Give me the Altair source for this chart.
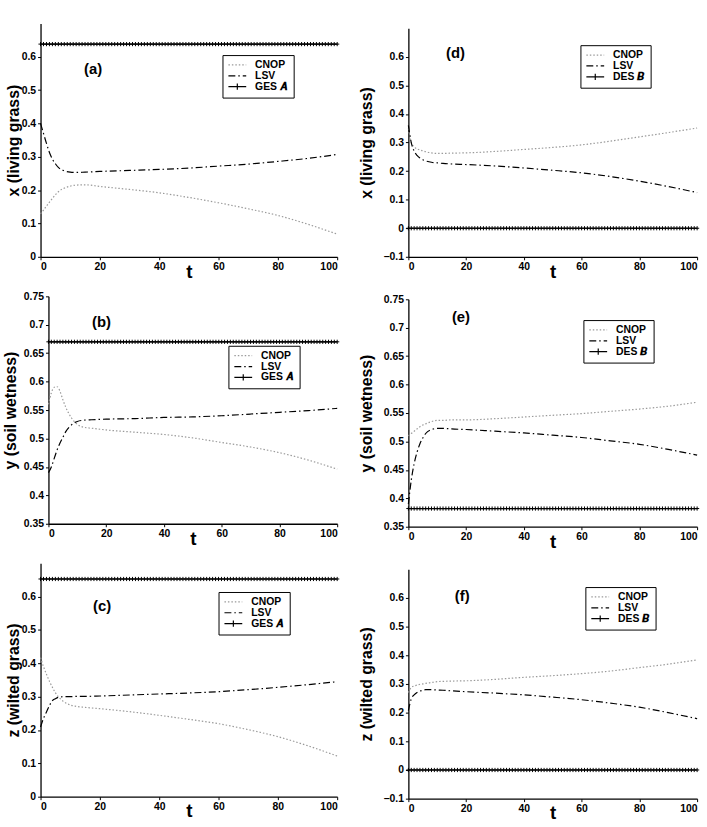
import altair as alt
import pandas as pd

# Sample times of the perturbation trajectories
T = [0, 1, 2, 3, 4, 5, 6, 8, 10, 12, 15, 20, 30, 40, 50, 60, 70, 80, 90, 100]
# Times where the equilibrium state is marked with "+"
T_MARK = list(range(0, 101))

# Panel (a): living grass, grass ecosystem state A
a_cnop = [0.129, 0.140, 0.152, 0.164, 0.175, 0.186, 0.195, 0.206, 0.212, 0.215,
          0.216, 0.211, 0.202, 0.192, 0.178, 0.162, 0.144, 0.124, 0.098, 0.068]
a_lsv = [0.400, 0.370, 0.340, 0.313, 0.293, 0.279, 0.268, 0.258, 0.254, 0.253,
         0.254, 0.256, 0.259, 0.262, 0.266, 0.272, 0.278, 0.286, 0.295, 0.307]
a_eq = 0.638

# Panel (b): soil wetness, state A
b_cnop = [0.560, 0.580, 0.590, 0.591, 0.583, 0.568, 0.555, 0.536, 0.525, 0.520,
          0.518, 0.515, 0.511, 0.507, 0.501, 0.493, 0.485, 0.475, 0.462, 0.446]
b_lsv = [0.440, 0.450, 0.465, 0.480, 0.492, 0.502, 0.512, 0.524, 0.530, 0.532,
         0.533, 0.534, 0.535, 0.537, 0.538, 0.540, 0.543, 0.546, 0.549, 0.553]
b_eq = 0.670

# Panel (c): wilted grass, state A
c_cnop = [0.417, 0.390, 0.367, 0.346, 0.328, 0.312, 0.300, 0.284, 0.275, 0.271,
          0.268, 0.264, 0.255, 0.244, 0.232, 0.219, 0.201, 0.180, 0.153, 0.122]
c_lsv = [0.209, 0.235, 0.254, 0.273, 0.288, 0.294, 0.298, 0.300, 0.300, 0.301,
         0.301, 0.302, 0.305, 0.308, 0.311, 0.315, 0.321, 0.328, 0.336, 0.345]
c_eq = 0.653

# Panel (d): living grass, desert ecosystem state B
d_cnop = [0.350, 0.300, 0.285, 0.278, 0.274, 0.271, 0.268, 0.264, 0.262, 0.262,
          0.263, 0.264, 0.269, 0.276, 0.283, 0.292, 0.305, 0.320, 0.335, 0.351]
d_lsv = [0.360, 0.300, 0.270, 0.255, 0.246, 0.240, 0.236, 0.231, 0.229, 0.227,
         0.225, 0.223, 0.218, 0.211, 0.203, 0.194, 0.181, 0.165, 0.146, 0.125]
d_eq = 0.0

# Panel (e): soil wetness, state B
e_cnop = [0.510, 0.514, 0.518, 0.522, 0.526, 0.529, 0.531, 0.535, 0.537, 0.537,
          0.538, 0.538, 0.540, 0.543, 0.546, 0.549, 0.553, 0.557, 0.562, 0.569]
e_lsv = [0.390, 0.432, 0.461, 0.481, 0.496, 0.506, 0.514, 0.521, 0.523, 0.523,
         0.522, 0.521, 0.518, 0.515, 0.511, 0.507, 0.501, 0.495, 0.486, 0.476]
e_eq = 0.382

# Panel (f): wilted grass, state B
f_cnop = [0.270, 0.288, 0.293, 0.296, 0.299, 0.300, 0.302, 0.305, 0.308, 0.309,
          0.310, 0.311, 0.316, 0.323, 0.329, 0.336, 0.345, 0.357, 0.369, 0.384]
f_lsv = [0.207, 0.248, 0.262, 0.270, 0.275, 0.278, 0.280, 0.280, 0.279, 0.278,
         0.276, 0.273, 0.268, 0.262, 0.254, 0.245, 0.233, 0.219, 0.200, 0.179]
f_eq = 0.0

GES = "GES \U0001D468"   # GES A (italic A)
DES = "DES \U0001D469"   # DES B (italic B)

Y_TICKS_07 = [0, 0.1, 0.2, 0.3, 0.4, 0.5, 0.6]
Y_TICKS_N = [-0.1, 0, 0.1, 0.2, 0.3, 0.4, 0.5, 0.6]
Y_TICKS_Y = [0.35, 0.4, 0.45, 0.5, 0.55, 0.6, 0.65, 0.7, 0.75]

FONT = "Liberation Sans"
PLUS = "M0,-1V1M-1,0H1"


def panel(tag, cnop, lsv, eq_val, eq_name, ytitle, ydomain, yticks,
          width, height, leg_x, leg_y, tag_dx, tag_dy, ytitle_pad,
          x_range=None, y_range=None, y_offset=0):
    rows = [{"t": t, "v": v, "s": "CNOP"} for t, v in zip(T, cnop)]
    rows += [{"t": t, "v": v, "s": "LSV"} for t, v in zip(T, lsv)]
    rows += [{"t": t, "v": eq_val, "s": eq_name} for t in (0, 100)]
    df = pd.DataFrame(rows)
    marks = pd.DataFrame({"t": T_MARK, "v": [eq_val] * len(T_MARK)})
    names = ["CNOP", "LSV", eq_name]

    xs = dict(domain=[0, 100], nice=False)
    if x_range:
        xs["range"] = x_range
    ys = dict(domain=ydomain, nice=False, zero=False)
    if y_range:
        ys["range"] = y_range
    x = alt.X("t:Q", scale=alt.Scale(**xs),
              axis=alt.Axis(values=[0, 20, 40, 60, 80, 100], format="d", title="t",
                            titleFontSize=19, titlePadding=-10, grid=False))
    y = alt.Y("v:Q", scale=alt.Scale(**ys),
              axis=alt.Axis(values=yticks, format="~g", title=ytitle, grid=False,
                            titleFontSize=16, titlePadding=ytitle_pad, offset=y_offset))

    legend = alt.Legend(
        title=None, orient="none", legendX=leg_x, legendY=leg_y,
        symbolType={"expr": "datum.value == 'CNOP' || datum.value == 'LSV' ? 'stroke' : 'M-1,0H1M0,-0.35V0.35'"},
        symbolSize=324, symbolStrokeWidth=1.2, clipHeight=10, rowPadding=0,
        labelFont=FONT, labelFontSize=10.5, labelFontWeight="bold", labelColor="black",
        labelOffset=8, padding=5, strokeColor="black", fillColor="white",
    )

    lines = alt.Chart(df).mark_line(strokeWidth=1.2, interpolate="monotone").encode(
        x=x, y=y,
        color=alt.Color("s:N", sort=names,
                        scale=alt.Scale(domain=names, range=["#9a9a9a", "black", "black"]),
                        legend=legend),
        strokeDash=alt.StrokeDash("s:N", sort=names,
                                  scale=alt.Scale(domain=names,
                                                  range=[[1.5, 2], [7, 3, 1.5, 3], [1, 0]]),
                                  legend=legend),
    )
    pluses = alt.Chart(marks).mark_point(shape=PLUS, size=18, strokeWidth=1,
                                         color="black", filled=False, opacity=1).encode(x=x, y=y)

    return alt.layer(lines, pluses).properties(
        width=width, height=height,
        title=alt.TitleParams(tag, anchor="start", frame="group", orient="top",
                              offset=0, baseline="alphabetic", dx=tag_dx, dy=tag_dy,
                              font=FONT, fontSize=15, fontWeight="bold", color="black"),
    )


pa = panel("(a)", a_cnop, a_lsv, a_eq, GES, "x (living grass)", [0, 0.7], Y_TICKS_07,
           300, 236, 184, 32, 44, 66, 0)
pb = panel("(b)", b_cnop, b_lsv, b_eq, GES, "y (soil wetness)", [0.35, 0.75], Y_TICKS_Y,
           300, 230, 190, 50, 52, 51, 5, x_range=[8, 300], y_offset=-8)
pc = panel("(c)", c_cnop, c_lsv, c_eq, GES, "z (wilted grass)", [0, 0.7], Y_TICKS_07,
           300, 236, 180, 29, 53, 63, 0)
pd_ = panel("(d)", d_cnop, d_lsv, d_eq, DES, "x (living grass)", [-0.1, 0.7], Y_TICKS_N,
            292, 236, 174, 22, 38, 50, 9, y_range=[236, 5])
pe = panel("(e)", e_cnop, e_lsv, e_eq, DES, "y (soil wetness)", [0.35, 0.75], Y_TICKS_Y,
           292, 230, 177, 21, 44, 43, 9)
pf = panel("(f)", f_cnop, f_lsv, f_eq, DES, "z (wilted grass)", [-0.1, 0.7], Y_TICKS_N,
           292, 232, 179, 18, 47, 47, 9)


def indep(ch):
    return (ch.resolve_scale(color="independent", strokeDash="independent")
              .resolve_legend(color="independent", strokeDash="independent"))


left = indep(alt.vconcat(pa, pb, pc, spacing=40, bounds="flush"))
right = indep(alt.vconcat(pd_, pe, pf, spacing=43, bounds="flush"))

chart = indep(alt.hconcat(left, right, spacing=15)).properties(
    padding={"left": 2, "top": 18, "right": 5, "bottom": 2},
    background="white",
).configure_view(stroke="transparent").configure_axis(
    grid=False, domainColor="black", domainWidth=1.3, tickColor="black", tickSize=3,
    labelFont=FONT, labelFontSize=10.5, labelFontWeight="bold", labelColor="black",
    labelPadding=2, titleFont=FONT, titleFontWeight="bold", titleColor="black",
)

chart.save("out.html", embed_options={"renderer": "svg", "actions": False})
